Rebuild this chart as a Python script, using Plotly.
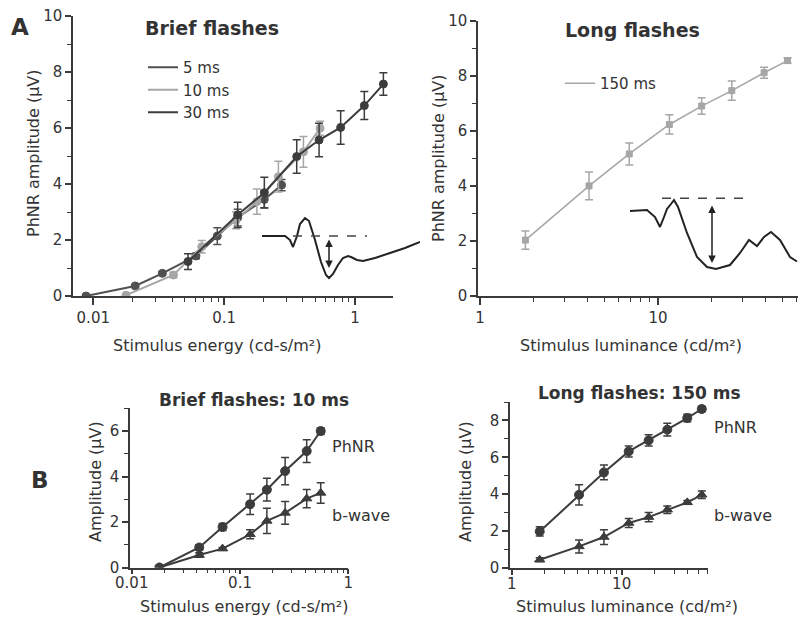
import plotly.graph_objects as go

# ---------------- Data ----------------
# Panel A (left): brief flashes, PhNR amplitude vs stimulus energy
energy_5ms = [0.0088, 0.0209, 0.0337, 0.061, 0.0887, 0.127, 0.203, 0.275]
phnr_5ms = [0.0, 0.36, 0.81, 1.43, 2.14, 2.8, 3.45, 3.96]
err_5ms = [0.03, 0.05, 0.06, 0.1, 0.3, 0.3, 0.3, 0.2]

energy_10ms = [0.0178, 0.041, 0.0675, 0.123, 0.178, 0.26, 0.404, 0.541]
phnr_10ms = [0.03, 0.75, 1.76, 2.7, 3.37, 4.26, 5.15, 5.99]
err_10ms = [0.05, 0.1, 0.22, 0.3, 0.45, 0.55, 0.55, 0.25]

energy_30ms = [0.053, 0.127, 0.203, 0.359, 0.532, 0.778, 1.18, 1.65]
phnr_30ms = [1.23, 2.9, 3.69, 4.98, 5.57, 6.02, 6.8, 7.57]
err_30ms = [0.28, 0.45, 0.55, 0.6, 0.6, 0.6, 0.5, 0.4]

# Panel A (right): long flashes (150 ms)
lum_long = [1.8, 4.1, 6.9, 11.6, 17.6, 26.0, 39.5, 53.5]
phnr_150ms = [2.03, 4.0, 5.16, 6.23, 6.9, 7.46, 8.11, 8.55]
err_150ms = [0.33, 0.5, 0.4, 0.35, 0.3, 0.35, 0.2, 0.1]

# Panel B (left): brief flashes 10 ms, PhNR and b-wave
energy_b = [0.018, 0.042, 0.069, 0.124, 0.177, 0.261, 0.413, 0.556]
phnr_b = [0.0, 0.88, 1.78, 2.78, 3.42, 4.24, 5.12, 6.0]
phnr_b_err = [0.05, 0.12, 0.15, 0.45, 0.5, 0.6, 0.5, 0.15]
bwave_b = [0.0, 0.55, 0.83, 1.46, 2.05, 2.4, 3.03, 3.28]
bwave_b_err = [0.05, 0.1, 0.05, 0.2, 0.55, 0.5, 0.4, 0.45]

# Panel B (right): long flashes 150 ms, PhNR and b-wave
phnr_long_b = [1.98, 3.97, 5.18, 6.32, 6.92, 7.5, 8.13, 8.62]
phnr_long_b_err = [0.25, 0.55, 0.4, 0.3, 0.3, 0.35, 0.2, 0.15]
bwave_long_b = [0.45, 1.17, 1.68, 2.44, 2.76, 3.16, 3.56, 3.97]
bwave_long_b_err = [0.1, 0.35, 0.4, 0.25, 0.25, 0.2, 0.1, 0.2]

# Example waveforms (insets), arbitrary time / amplitude units
wave_brief_t = [0, 23, 28, 31, 35, 38, 43, 47, 53, 59, 64, 67, 71, 76, 81, 86,
                89, 95, 101, 113, 128, 143, 158]
wave_brief_v = [0, 0, -4, -11, 0, 12, 18, 15, -4, -26, -39, -42, -38, -29, -22, -20,
                -21, -24, -25, -22, -17, -12, -6]
wave_brief_base_t = [31, 105]
wave_brief_base_v = [0, 0]
wave_brief_arrow_t = [67, 67]
wave_brief_arrow_v = [-2, -32]

wave_long_t = [0, 17, 25, 30, 34, 37, 41, 44, 48, 57, 67, 77, 86, 100, 110, 119,
               127, 134, 141, 150, 160, 167]
wave_long_v = [59, 60, 53, 43, 53, 61, 66, 70, 63, 37, 13, 3, 1, 5, 17, 30,
               24, 33, 38, 30, 13, 8.5]
wave_long_base_t = [32, 117]
wave_long_base_v = [71.7, 71.7]
wave_long_arrow_t = [82, 82]
wave_long_arrow_v = [66, 7]

# Tick labels
ticks_energy_A = [0.01, 0.1, 1]
ticks_energy_A_text = ["0.01", "0.1", "1"]
ticks_lum = [1, 10]
ticks_lum_text = ["1", "10"]

# ---------------- Styling ----------------
FONT = "DejaVu Sans"
TXT = "#333333"
AX = "#3a3a3a"
DARK = "#3c3c3c"
DARK2 = "#505050"
LIGHT = "#a6a6a6"

W, H = 798, 617


def px_x(x):
    return x / W


def px_y(y):
    return (H - y) / H


def minor_log(lo, hi):
    vals = []
    e = lo
    while 10 ** e <= hi:
        for m in range(2, 10):
            v = m * 10 ** e
            if v <= hi:
                vals.append(v)
        e += 1
    return vals


def lin_axis(rng, dtick_major, domain, anchor, minor_dtick):
    return dict(
        range=rng, domain=domain, anchor=anchor,
        showline=True, linecolor=AX, linewidth=1.5,
        ticks="outside", ticklen=6, tickwidth=1.5, tickcolor=AX,
        tickmode="linear", tick0=0, dtick=dtick_major,
        minor=dict(ticks="outside", ticklen=4, tickwidth=1.2, tickcolor=AX,
                   tickmode="linear", tick0=0, dtick=minor_dtick),
        showgrid=False, zeroline=False, automargin=False,
        tickfont=dict(family=FONT, size=15, color=TXT),
    )


def log_axis(rng, tv, tt, domain, anchor, minor_vals, ticklen=7, standoff=0):
    return dict(
        type="log", range=rng, domain=domain, anchor=anchor,
        showline=True, linecolor=AX, linewidth=1.5,
        ticks="outside", ticklen=ticklen, tickwidth=1.5, tickcolor=AX,
        tickmode="array", tickvals=tv, ticktext=tt,
        minor=dict(ticks="outside", ticklen=4, tickwidth=1.2, tickcolor=AX,
                   tickmode="array", tickvals=minor_vals),
        showgrid=False, zeroline=False, automargin=False,
        ticklabelstandoff=standoff,
        tickfont=dict(family=FONT, size=15, color=TXT),
    )


fig = go.Figure()


def add_series(x, y, err, color, name, xa, ya, symbol="circle", size=8,
               legend=None, lw=2):
    # connecting line (also used as legend entry)
    fig.add_trace(go.Scatter(
        x=x, y=y, mode="lines", name=name, xaxis=xa, yaxis=ya,
        line=dict(color=color, width=lw),
        showlegend=legend is not None, legend=legend or "legend",
        hoverinfo="skip"))
    fig.add_trace(go.Scatter(
        x=x, y=y, mode="markers", name=name, xaxis=xa, yaxis=ya,
        marker=dict(color=color, size=size, symbol=symbol,
                    line=dict(color=color, width=1)),
        error_y=dict(type="data", array=err, visible=True, color=color,
                     thickness=1.5, width=4),
        showlegend=False))


# Panel A left
add_series(energy_5ms, phnr_5ms, err_5ms, DARK2, "5 ms", "x", "y", legend="legend")
add_series(energy_10ms, phnr_10ms, err_10ms, LIGHT, "10 ms", "x", "y", legend="legend")
add_series(energy_30ms, phnr_30ms, err_30ms, DARK, "30 ms", "x", "y", legend="legend")

# Panel A right
add_series(lum_long, phnr_150ms, err_150ms, LIGHT, "150 ms", "x2", "y2",
           symbol="square", size=6, legend="legend2", lw=1.5)

# Panel B left
add_series(energy_b, phnr_b, phnr_b_err, DARK, "PhNR", "x3", "y3", size=9)
add_series(energy_b, bwave_b, bwave_b_err, DARK, "b-wave", "x3", "y3",
           symbol="triangle-up", size=9)

# Panel B right
add_series(lum_long, phnr_long_b, phnr_long_b_err, DARK, "PhNR", "x4", "y4", size=9)
add_series(lum_long, bwave_long_b, bwave_long_b_err, DARK, "b-wave", "x4", "y4",
           symbol="triangle-up", size=9)

# Inset waveforms
for t, v, xa, ya in [(wave_brief_t, wave_brief_v, "x5", "y5"),
                     (wave_long_t, wave_long_v, "x6", "y6")]:
    fig.add_trace(go.Scatter(x=t, y=v, mode="lines", xaxis=xa, yaxis=ya,
                             line=dict(color="#222222", width=2),
                             showlegend=False, hoverinfo="skip"))
for t, v, xa, ya in [(wave_brief_base_t, wave_brief_base_v, "x5", "y5"),
                     (wave_long_base_t, wave_long_base_v, "x6", "y6")]:
    fig.add_trace(go.Scatter(x=t, y=v, mode="lines", xaxis=xa, yaxis=ya,
                             line=dict(color="#444444", width=1.5, dash="dash"),
                             showlegend=False, hoverinfo="skip"))

annotations = []
for t, v, xr, yr in [(wave_brief_arrow_t, wave_brief_arrow_v, "x5", "y5"),
                     (wave_long_arrow_t, wave_long_arrow_v, "x6", "y6")]:
    annotations.append(dict(
        x=t[1], y=v[1], ax=t[0], ay=v[0], xref=xr, yref=yr, axref=xr, ayref=yr,
        text="", showarrow=True, arrowhead=2, arrowsize=1, arrowwidth=1.5,
        arrowcolor="#222222", arrowside="end+start"))


def label(text, x, y, size=16, bold=False, xanchor="center", angle=0):
    annotations.append(dict(
        text=f"<b>{text}</b>" if bold else text,
        x=px_x(x), y=px_y(y), xref="paper", yref="paper",
        xanchor=xanchor, yanchor="middle", showarrow=False, textangle=angle,
        font=dict(family=FONT, size=size, color=TXT)))


# Titles / panel letters
label("A", 20, 27, size=23, bold=True)
label("B", 40, 480, size=23, bold=True)
label("Brief flashes", 212, 28, size=19, bold=True)
label("Long flashes", 632, 30, size=19, bold=True)
label("Brief flashes: 10 ms", 254, 400, size=17, bold=True)
label("Long flashes: 150 ms", 639, 393, size=17, bold=True)

# Axis titles
label("Stimulus energy (cd-s/m²)", 217, 345)
label("Stimulus luminance (cd/m²)", 631, 345)
label("PhNR amplitude (µV)", 33, 153, angle=-90)
label("PhNR amplitude (µV)", 438, 158, angle=-90)
label("Amplitude (µV)", 95, 482, angle=-90)
label("Amplitude (µV)", 465, 482, angle=-90)
label("Stimulus energy (cd-s/m²)", 244, 606)
label("Stimulus luminance (cd/m²)", 627, 606)

# Series labels in panel B
label("PhNR", 330, 446, size=16, xanchor="left")
label("b-wave", 330, 515, size=16, xanchor="left")
label("PhNR", 712, 427, size=16, xanchor="left")
label("b-wave", 712, 515, size=16, xanchor="left")

layout = dict(
    width=W, height=H, margin=dict(l=0, r=0, t=0, b=0),
    paper_bgcolor="white", plot_bgcolor="rgba(0,0,0,0)",
    showlegend=True,
    annotations=annotations,
    legend=dict(x=px_x(143), y=px_y(51), xanchor="left", yanchor="top",
                font=dict(family=FONT, size=15, color=TXT),
                bgcolor="rgba(0,0,0,0)", itemwidth=30, tracegroupgap=0),
    legend2=dict(x=px_x(560), y=px_y(67), xanchor="left", yanchor="top",
                 font=dict(family=FONT, size=15, color=TXT),
                 bgcolor="rgba(0,0,0,0)", itemwidth=30),
    # Panel A left
    xaxis=log_axis([-2.155, 0.291], ticks_energy_A, ticks_energy_A_text,
                   [px_x(73), px_x(393)], "y", minor_log(-2, 1.9)),
    yaxis=lin_axis([0, 10], 2, [px_y(296), px_y(16)], "x", 1),
    # Panel A right
    xaxis2=log_axis([-0.011, 1.787], ticks_lum, ticks_lum_text,
                    [px_x(478), px_x(798)], "y2", minor_log(0, 61)),
    yaxis2=lin_axis([0, 10], 2, [px_y(296), px_y(20.7)], "x2", 1),
    # Panel B left
    xaxis3=log_axis([-2.016, 0.0], ticks_energy_A, ticks_energy_A_text,
                    [px_x(130), px_x(348.3)], "y3", minor_log(-2, 0.95),
                    ticklen=5, standoff=-4),
    yaxis3=lin_axis([0, 7], 2, [px_y(567.5), px_y(408.3)], "x3", 1),
    # Panel B right
    xaxis4=log_axis([-0.015, 1.785], ticks_lum, ticks_lum_text,
                    [px_x(510), px_x(708)], "y4", minor_log(0, 61),
                    ticklen=5, standoff=-4),
    yaxis4=lin_axis([0, 9], 2, [px_y(568), px_y(402)], "x4", 1),
    # Insets
    xaxis5=dict(range=[0, 158], domain=[px_x(262), px_x(420)], anchor="y5",
                visible=False, fixedrange=True),
    yaxis5=dict(range=[-49, 31], domain=[px_y(285), px_y(205)], anchor="x5",
                visible=False, fixedrange=True),
    xaxis6=dict(range=[-2, 168], domain=[px_x(628), px_x(798)], anchor="y6",
                visible=False, fixedrange=True),
    yaxis6=dict(range=[-8, 80], domain=[px_y(278), px_y(190)], anchor="x6",
                visible=False, fixedrange=True),
)
fig.update_layout(**layout)

fig.write_html("out.html",
               config={"displayModeBar": False},
               post_script="document.body.style.margin='0';"
                           "document.body.style.padding='0';")
